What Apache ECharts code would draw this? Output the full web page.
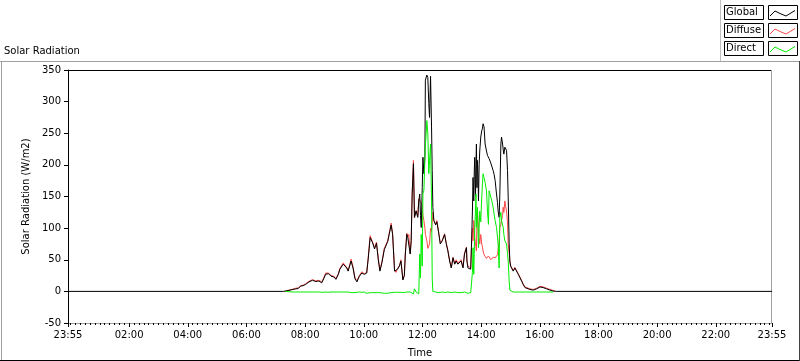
<!DOCTYPE html>
<html><head><meta charset="utf-8">
<script src="https://cdn.jsdelivr.net/npm/echarts@6/dist/echarts.min.js"></script>
<style>html,body{margin:0;padding:0;background:#fff}#c{width:800px;height:361px}</style>
</head><body><div id="c"></div><script>
// time in minutes since midnight (axis runs 23:55 -> 23:55)
const times = [
 -5,436,438,440,447,455,461,466,471,476,
 481,488,495,502,508,514,518,522,528,533,
 539,543,548,551,554,558,562,565,568,571,
 574,578,582,586,591,596,601,606,609,613,
 615,618,622,626,630,633,637,642,646,649,
 652,656,659,663,666,669,673,676,680,683,
 685,688,690,692,695,697,699,701.6,703.7,707,
 710.5,712.5,714.5,716,717.5,719.6,721,723,725,726,
 729,731,733,734.5,736.6,738.6,740,741.3,743.4,747,
 749.5,753.7,756.5,760.6,765.3,768.8,772,775.6,779,782.5,
 786,789,792.4,796,799,803,806,808,810,811,
 813,816.7,818.7,820.2,822.2,823.5,825,826,827,828.5,
 829.5,830.4,831.5,832.5,833.8,834.6,836,837.2,839.3,841.3,
 842.8,844,846,848.2,851,853,855,856.3,857.8,859.8,
 861.9,864.6,866.6,868.7,871.5,873.6,874.8,876.9,878.3,880.4,
 881.8,883.9,885.1,886.5,888.6,890,892,894,895.4,897.4,
 898.8,900.3,902.3,905.7,909,912.6,916,919.4,923,926,
 929.7,933,940,946.7,953.6,960.5,967,974,981,987,
 991,995,1435
];
const globalVals = [
 0,0,0,0,1.6,3,4,4.5,8.4,9,
 11,15,17.5,15.5,16.5,13.5,20,27,28,24,
 22.7,19,27,35,37,43,44,37,32,40,
 48,37,20,15,24,29,27,29,51,85,
 88,77,67,76,48,32,45,66,69,79,
 90,105,90,32,29,35,40,48,18,25,
 59,90,85,88,59,80,154,202,117,127,
 117,143,154,120,101,164,212,186,212,334,
 342,338,297,275,340,260,191,133,112,105,
 110,90,75,80,90,75,64,48,37,53,
 43,48,43,40,48,37,59,59,69,48,
 37,40,35,69,127,180,143,191,212,150,
 200,233,164,207,180,143,200,222,244,254,
 258,265,260,233,222,215,212,210,207,203,
 200,191,185,175,154,140,127,117,154,233,
 244,233,225,217,228,225,223,191,149,75,
 48,40,37,32,37,35,27,25,16,11,
 6,5,3,2,4,7,6,4,2,0.5,
 0,0,0
];
const diffuseVals = [
 null,null,0,0.5,2,3.5,5,5.5,9,10,
 12,16,18.5,16.5,17.5,15,21,29,29,25,
 24,20,28,36,39,45,46,38,33,41,
 51,39,21,17,25,31,28,30,53,88,
 90,78,69,78,50,34,46,68,71,80,
 92,108,91,34,30,36,41,50,19,26,
 61,92,86,90,60,81,155,207,116,128,
 120,146,148,145,140,135,120,112,100,90,
 80,68,70,75,100,95,110,125,112,106,
 112,91,76,81,91,76,65,49,38,54,
 44,50,45,42,50,39,60,62,70,50,
 40,42,37,70,100,80,112,100,85,75,
 70,64,110,127,110,101,85,75,90,75,
 70,64,58,55,52,54,56,55,54,50,
 52,54,52,53,55,58,65,80,101,105,
 112,120,133,125,143,135,127,110,75,60,
 48,41,38,33,38,36,28,26,17,12,
 7,6,4,3,5,8,7,5,3,1.5,
 0.5,null,null
];
const directVals = [
 null,null,null,0,-0.5,-1,-1,-1,-1,-1,
 -1,-1,-1,-1,-1,-1.5,-1,-1,-1.5,-1,
 -1,-1.5,-1,-1,-1,-1.5,-1,-1,-1,-2,
 -2,-1.5,-2,-1,-1,-1.5,-1,-3,-3,-2,
 -3,-2,-2.5,-2,-3,-2,-1.5,-3,-4,-3,
 -2,-2,-1,-1.5,-1,-1.5,-1,-1.5,-1,-2,
 -1,-1,-1,-1,-1,0,-1,-4,4,-1,
 -4,-4,59,21,90,40,154,160,210,230,
 270,250,186,207,233,143,21,0,-1,-1,
 -1,-2,-2,-1,-2,-2,-1,-1,-2,-1,
 -1,-2,-2,-1,-2,-1,-1,-2,-1,-1,
 -3,-2,-2,-1,30,69,27,60,101,127,
 154,101,127,133,90,69,100,127,110,149,
 170,186,180,172,159,127,106,159,155,149,
 143,133,122,112,101,85,75,37,117,125,
 112,105,101,90,80,78,75,60,48,16,
 2,0,-1,-1,-1,-1,-1,-1,-1,-1,
 -1,-1,-1,-1,-1,-1,-1,-1,-1,-1,
 null,null,null
];
const tickValues = [-5,120,240,360,480,600,720,840,960,1080,1200,1320,1435];
const tickLabels = ['23:55','02:00','04:00','06:00','08:00','10:00','12:00','14:00','16:00','18:00','20:00','22:00','23:55'];
const seriesNames = ['Global','Diffuse','Direct'];
const seriesColors = ['#000000','#ff4848','#00ee00'];

const FONT = '"DejaVu Sans", sans-serif';
const minorTicks = []; for (let m = 0; m <= 1430; m += 10) minorTicks.push(m);
function pairs(vals){ return times.map((t,i)=>[t, vals[i]]); }
function mkSeries(name, vals, color){
  return {name:name,type:'line',data:pairs(vals),showSymbol:false,symbol:'none',connectNulls:false,
    lineStyle:{color:color,width:1},itemStyle:{color:color},silent:true,animation:false};
}
const graphic = [
  {type:'line',shape:{x1:0,y1:61.5,x2:800,y2:61.5},style:{stroke:'#a0a0a0',lineWidth:1}},
  {type:'line',shape:{x1:1.5,y1:61,x2:1.5,y2:361},style:{stroke:'#a0a0a0',lineWidth:1}},
  {type:'line',shape:{x1:0,y1:360.5,x2:800,y2:360.5},style:{stroke:'#000',lineWidth:1}},
  {type:'line',shape:{x1:799.5,y1:61,x2:799.5,y2:361},style:{stroke:'#404040',lineWidth:1}},
  {type:'line',shape:{x1:720.5,y1:0,x2:720.5,y2:61},style:{stroke:'#c0c0c0',lineWidth:1}},
  {type:'line',shape:{x1:68,y1:70.5,x2:772,y2:70.5},style:{stroke:'#000',lineWidth:1}},
  {type:'line',shape:{x1:771.5,y1:70,x2:771.5,y2:323},style:{stroke:'#a0a0a0',lineWidth:1}},
  {type:'text',style:{text:'Solar Radiation',x:4,y:51,font:'10px '+FONT,fill:'#000',align:'left',verticalAlign:'middle'}}
];
const legendOrder = [0,1,2];
legendOrder.forEach((k,r)=>{
  const top = 4.5 + r*18.3;
  graphic.push({type:'rect',shape:{x:724.5,y:Math.round(top)+0.5,width:39,height:14},style:{fill:'#fff',stroke:'#000',lineWidth:1}});
  graphic.push({type:'rect',shape:{x:768.5,y:Math.round(top)+0.5,width:29,height:14},style:{fill:'#fff',stroke:'#000',lineWidth:1}});
  graphic.push({type:'text',style:{text:seriesNames[k],x:726,y:Math.round(top)+7.5,font:'10px '+FONT,fill:'#000',align:'left',verticalAlign:'middle'}});
  const b = Math.round(top);
  graphic.push({type:'polyline',shape:{points:[[770,b+11],[775,b+6],[780,b+8.5],[786,b+11],[795,b+5.5]]},style:{stroke:seriesColors[k],fill:null,lineWidth:1}});
});

const chart = echarts.init(document.getElementById('c'), null, {renderer:'canvas'});
chart.setOption({
  animation:false,
  backgroundColor:'#ffffff',
  grid:{left:68,right:28,top:70,bottom:38,containLabel:false,outerBoundsMode:'none'},
  xAxis:[{
    type:'value',min:-5,max:1435,
    axisLine:{show:true,onZero:false,lineStyle:{color:'#a0a0a0',width:1}},
    axisTick:{show:true,customValues:tickValues,length:4,lineStyle:{color:'#000'}},
    axisLabel:{customValues:tickValues,showMinLabel:true,showMaxLabel:true,hideOverlap:false,
      formatter:function(v){const i=tickValues.indexOf(v);return i>=0?tickLabels[i]:'';},
      margin:7,color:'#000',fontFamily:FONT,fontSize:10},
    splitLine:{show:false},
    name:'Time',nameLocation:'middle',nameGap:25,
    nameTextStyle:{color:'#000',fontFamily:FONT,fontSize:10}
  },{
    type:'value',min:-5,max:1435,position:'bottom',
    axisLine:{show:false,onZero:false},
    axisTick:{show:true,customValues:minorTicks,length:2,lineStyle:{color:'#000'}},
    axisLabel:{show:false},splitLine:{show:false}
  }],
  yAxis:{
    type:'value',min:-50,max:350,interval:50,
    axisLine:{show:true,onZero:false,lineStyle:{color:'#000',width:1}},
    axisTick:{show:true,length:4,lineStyle:{color:'#000'}},
    axisLabel:{margin:7,color:'#000',fontFamily:FONT,fontSize:10},
    splitLine:{show:false},
    name:'Solar Radiation (W/m2)',nameLocation:'middle',nameGap:20,nameRotate:90,
    nameTextStyle:{color:'#000',fontFamily:FONT,fontSize:10}
  },
  series:[
    mkSeries(seriesNames[1], diffuseVals, seriesColors[1]),
    mkSeries(seriesNames[0], globalVals, seriesColors[0]),
    mkSeries(seriesNames[2], directVals, seriesColors[2])
  ],
  graphic:graphic
});
</script></body></html>
